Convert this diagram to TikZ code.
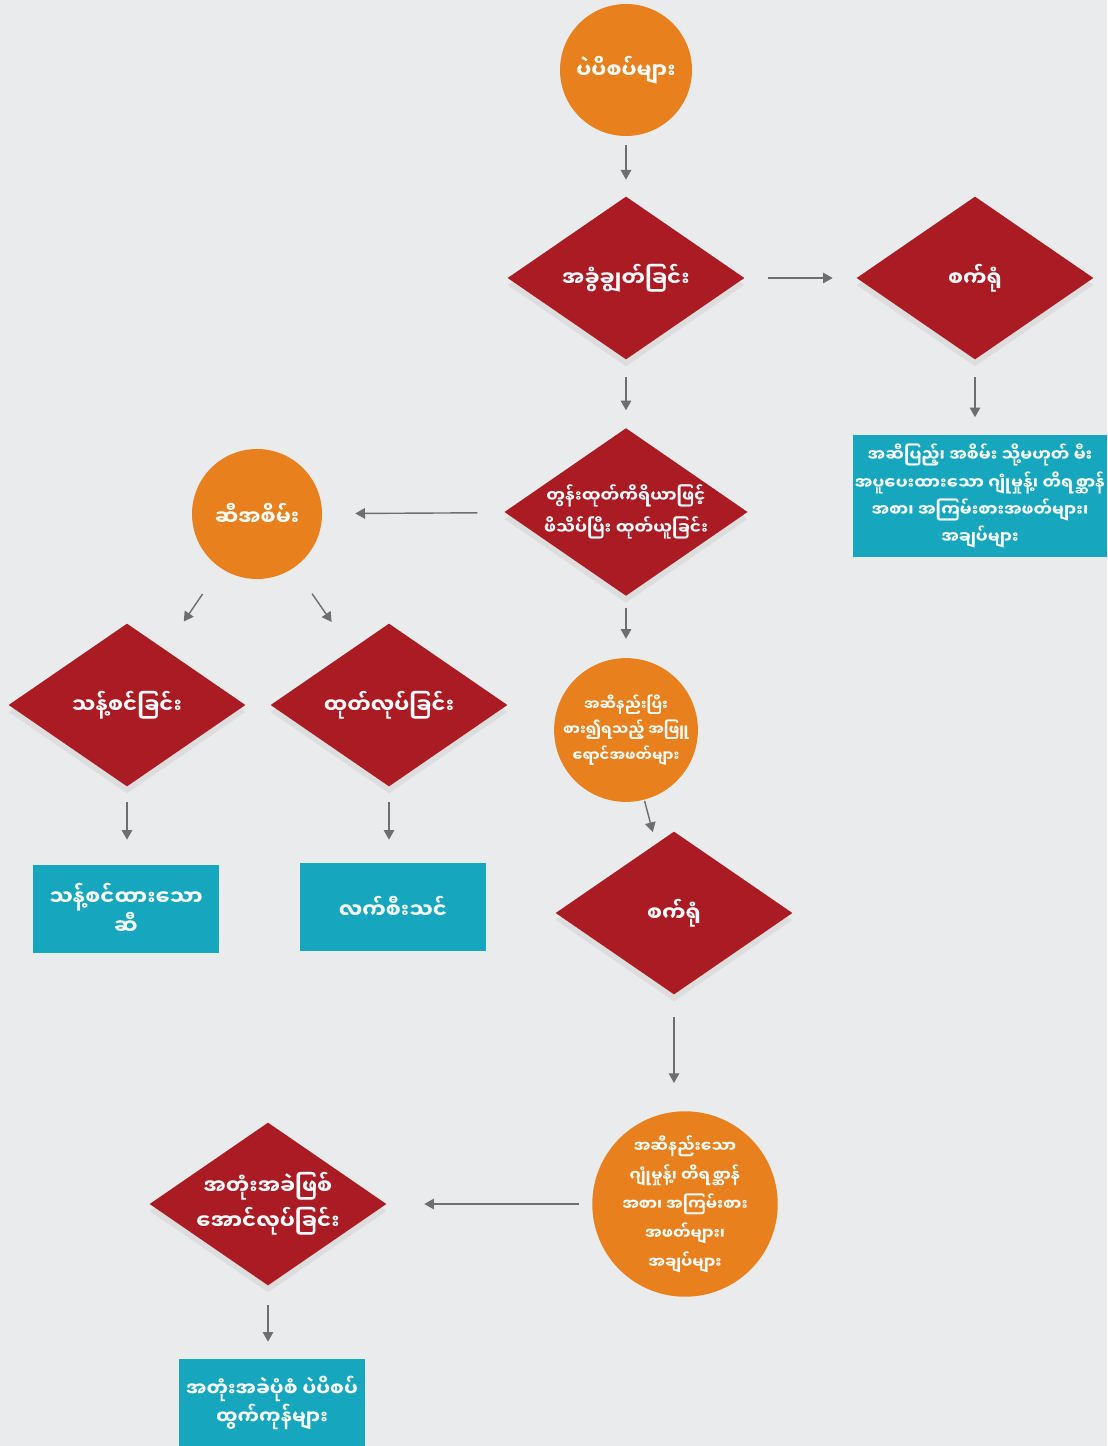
\documentclass[tikz,border=0pt]{standalone}
\usepackage{fontspec}
\usetikzlibrary{shapes.geometric,arrows.meta,shadows}
\newfontfamily\mmfont[Script=Myanmar]{Noto Sans Myanmar UI}
\definecolor{podorange}{RGB}{232,128,30}
\definecolor{stepred}{RGB}{170,27,35}
\definecolor{outteal}{RGB}{22,166,190}
\definecolor{paper}{RGB}{234,235,236}
\definecolor{flowgray}{RGB}{110,110,112}

\begin{document}
\begin{tikzpicture}[x=0.02cm,y=-0.02cm,
    every node/.style={text=white, align=center, inner sep=0pt},
    bigtext/.style={font=\mmfont\bfseries\fontsize{12}{20}\selectfont},
    midtext/.style={font=\mmfont\bfseries\fontsize{9.6}{18.5}\selectfont},
    smalltext/.style={font=\mmfont\bfseries\fontsize{8.4}{14.5}\selectfont},
    proc/.style={diamond, aspect=1.45, fill=stepred, minimum width=4.74cm, minimum height=3.26cm, bigtext,
      drop shadow={opacity=0.12, shadow xshift=0pt, shadow yshift=-4pt}},
    item/.style={circle, fill=podorange},
    result/.style={rectangle, fill=outteal},
    flow/.style={draw=flowgray, line width=0.8pt, -{Triangle[length=5.5pt,width=6pt]}},
  ]
        \path[use as bounding box, fill=paper] (0,0) rectangle (1107,1446);

        % main line
        \node[item, bigtext, minimum size=2.64cm] (soy) at (626,70) {ပဲပိစပ်များ};
        \node[proc] (dehull) at (626,278) {အခွံချွတ်ခြင်း};
        \node[proc] (mill1) at (975,278) {စက်ရုံ};
        \node[result, font=\mmfont\bfseries\fontsize{9.5}{15.4}\selectfont, minimum width=5.08cm, minimum height=2.46cm] (fullfat) at (980,496)
            {အဆီပြည့်၊ အစိမ်း သို့မဟုတ် မီး\\အပူပေးထားသော ဂျုံမှုန့်၊ တိရစ္ဆာန်\\အစာ၊ အကြမ်းစားအဖတ်များ၊\\အချပ်များ};
        \node[proc, midtext] (press) at (626,512) {တွန်းထုတ်ကိရိယာဖြင့်\\ဖိသိပ်ပြီး ထုတ်ယူခြင်း};

        % oil branch
        \node[item, bigtext, minimum size=2.6cm] (crude) at (257,514) {ဆီအစိမ်း};
        \node[proc] (refine) at (127,705) {သန့်စင်ခြင်း};
        \node[proc] (make) at (389,705) {ထုတ်လုပ်ခြင်း};
        \node[result, bigtext, minimum width=3.72cm, minimum height=1.76cm, font=\mmfont\bfseries\fontsize{12}{15.5}\selectfont] (oil) at (126,909) {သန့်စင်ထားသော\\ဆီ};
        \node[result, bigtext, minimum width=3.72cm, minimum height=1.76cm] (lecithin) at (393,907) {လက်စီးသင်};

        % flakes branch
        \node[item, smalltext, minimum size=2.72cm] (flakes) at (626,730) {အဆီနည်းပြီး\\စား၍ရသည့် အဖြူ\\ရောင်အဖတ်များ};
        \node[proc] (mill2) at (674,913) {စက်ရုံ};
        \node[item, font=\mmfont\bfseries\fontsize{9}{16.5}\selectfont, minimum size=3.68cm] (lowfat) at (685,1204)
            {အဆီနည်းသော\\ဂျုံမှုန့်၊ တိရစ္ဆာန်\\အစာ၊ အကြမ်းစား\\အဖတ်များ၊\\အချပ်များ};
        \node[proc, font=\mmfont\bfseries\fontsize{12}{20}\selectfont] (texture) at (268,1204) {အတုံးအခဲဖြစ်\\အောင်လုပ်ခြင်း};
        \node[result, font=\mmfont\bfseries\fontsize{11}{16}\selectfont, minimum width=3.72cm, minimum height=1.76cm] (tvp) at (272,1403) {အတုံးအခဲပုံစံ ပဲပိစပ်\\ထွက်ကုန်များ};

        \draw[flow, shorten <=0.18cm, shorten >=0.33cm] (soy) -- (dehull);
        \draw[flow, shorten <=0.47cm, shorten >=0.47cm] (dehull) -- (mill1);
        \draw[flow, shorten <=0.35cm, shorten >=0.34cm] (mill1.south) -- (mill1.south |- fullfat.north);
        \draw[flow, shorten <=0.35cm, shorten >=0.35cm] (dehull) -- (press);
        \draw[flow, shorten <=0.55cm, shorten >=0.66cm] (press) -- (crude);
        \draw[flow, shorten <=0.63cm, shorten >=0.67cm] (crude) -- (refine);
        \draw[flow, shorten <=0.63cm, shorten >=0.67cm] (crude) -- (make);
        \draw[flow, shorten <=0.31cm, shorten >=0.5cm] (refine.south) -- (refine.south |- oil.north);
        \draw[flow, shorten <=0.31cm, shorten >=0.46cm] (make.south) -- (make.south |- lecithin.north);
        \draw[flow, shorten <=0.23cm, shorten >=0.38cm] (press) -- (flakes);
        \draw[flow, shorten <=0.02cm, shorten >=0.24cm] (flakes) -- (mill2);
        \draw[flow, shorten <=0.45cm, shorten >=0.56cm] (mill2.south) -- (mill2.south |- lowfat.north);
        \draw[flow, shorten <=0.26cm, shorten >=0.75cm] (lowfat) -- (texture);
        \draw[flow, shorten <=0.39cm, shorten >=0.34cm] (texture.south) -- (texture.south |- tvp.north);
\end{tikzpicture}
\end{document}
